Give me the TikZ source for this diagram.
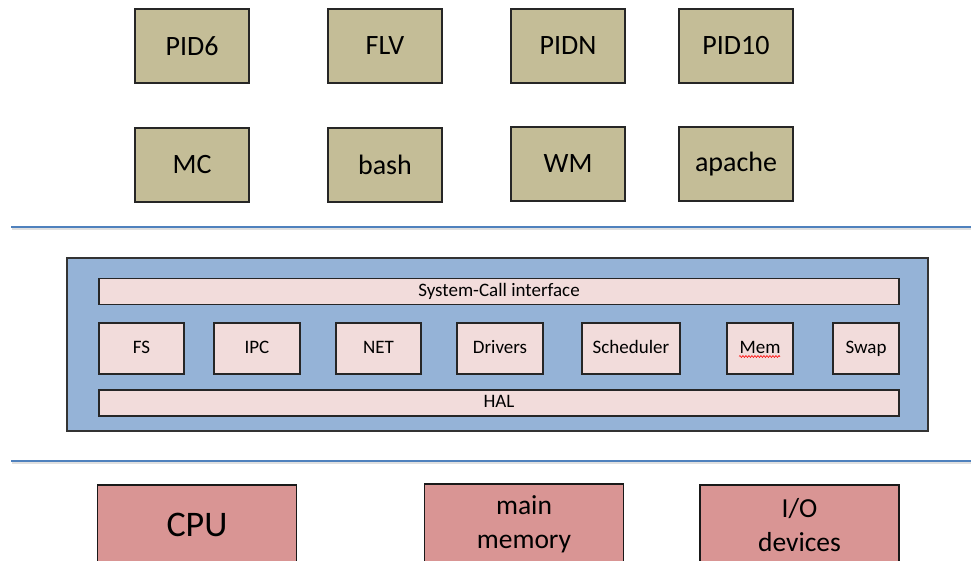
\documentclass[tikz,border=0pt]{standalone}
\usepackage{fontspec}
\setmainfont{Carlito}
\usetikzlibrary{decorations.pathmorphing}
\definecolor{procfill}{HTML}{C4BD97}
\definecolor{kernfill}{HTML}{95B3D7}
\definecolor{partfill}{HTML}{F2DCDB}
\definecolor{hwfill}{HTML}{D99594}
\definecolor{sepblue}{HTML}{4F81BD}
\tikzset{
  proc/.style={draw=black!85, line width=1.2pt, fill=procfill, inner sep=0pt,
    minimum width=114pt, minimum height=74pt, font=\fontsize{28}{32}\selectfont},
  kernel/.style={draw=black!80, line width=1.2pt, fill=kernfill, inner sep=0pt,
    minimum width=861pt, minimum height=173pt},
  bar/.style={draw=black!85, line width=1.1pt, fill=partfill, inner sep=0pt,
    minimum width=800pt, minimum height=26pt, font=\fontsize{19}{22}\selectfont,
    text height=12.5pt, text depth=3pt},
  part/.style={draw=black!85, line width=1.1pt, fill=partfill, inner sep=0pt,
    minimum height=51pt, font=\fontsize{19}{22}\selectfont,
    text height=12.5pt, text depth=3pt},
  hw/.style={draw=black!90, line width=1.3pt, fill=hwfill, inner sep=0pt,
    minimum width=199pt, minimum height=80pt, align=center,
    font=\fontsize{27.5}{34}\selectfont},
  sepline/.style={draw=sepblue, line width=2.6pt},
  sepshadow/.style={draw=black!12, line width=2.6pt},
}
\begin{document}
\begin{tikzpicture}[x=1pt, y=-1pt]
\useasboundingbox (0,0) rectangle (971,561);
\clip (0,0) rectangle (971,561);

% user processes
\node[proc] (pid6)   at (192,46)  {PID6};
\node[proc] (flv)    at (385,46)  {FLV};
\node[proc] (pidn)   at (568,46)  {PIDN};
\node[proc] (pid10)  at (736,46)  {PID10};
\node[proc] (mc)     at (192,165) {MC};
\node[proc] (bash)   at (385,165) {bash};
\node[proc] (wm)     at (568,164) {WM};
\node[proc] (apache) at (736,164) {apache};

% user / kernel boundary
\draw[sepshadow] (12,229) -- (971,229);
\draw[sepline] (11,227) -- (971,227);

% kernel
\node[kernel] (kern) at (497.5,344.5) {};
\node[bar] (syscall) at (499,291.5) {System-Call interface};
\node[part, minimum width=85pt] (fs)    at (141.5,348.5) {FS};
\node[part, minimum width=86pt] (ipc)   at (257,348.5)   {IPC};
\node[part, minimum width=85pt] (net)   at (378.5,348.5) {NET};
\node[part, minimum width=86pt] (drv)   at (500,348.5)   {Drivers};
\node[part, minimum width=98pt] (sched) at (631,348.5)   {Scheduler};
\node[part, minimum width=66pt] (mem)   at (760,348.5)   {Mem};
\node[part, minimum width=66pt] (swap)  at (866,348.5)   {Swap};
\node[bar] (hal) at (499,403) {HAL};

% spell-check squiggle under "Mem"
\draw[red, line width=0.6pt, decorate,
      decoration={snake, segment length=3pt, amplitude=0.9pt}]
  ([xshift=-21pt, yshift=-8pt]mem.center) -- ([xshift=20pt, yshift=-8pt]mem.center);

% kernel / hardware boundary
\draw[sepshadow] (12,463) -- (971,463);
\draw[sepline] (11,461) -- (971,461);

% hardware
\node[hw, font=\fontsize{36}{40}\selectfont] (cpu) at (197,525) {CPU};
\node[hw] (mainmem) at (524,524) {main\\memory};
\node[hw] (io)      at (799.5,525) {I/O\\devices};
\end{tikzpicture}
\end{document}
